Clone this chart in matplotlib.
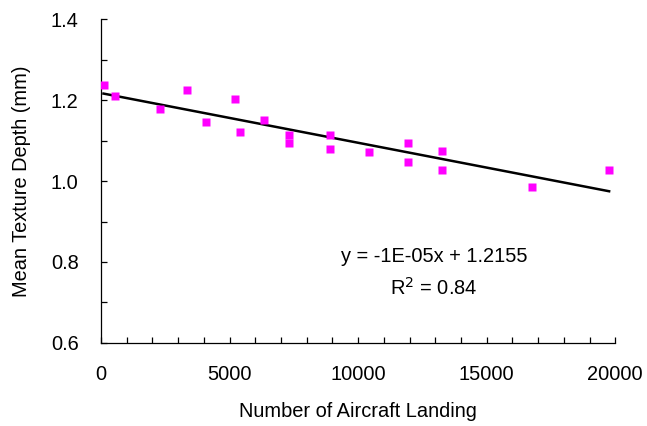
import numpy as np
import matplotlib.pyplot as plt
from matplotlib.ticker import MultipleLocator

plt.rcParams['font.family'] = ['Liberation Sans', 'DejaVu Sans']

# 数据
landings = [100, 550, 2300, 3330, 4100, 5200, 5400, 6350, 7330, 7330,
            8900, 8900, 10440, 11950, 11950, 13270, 13270, 16770, 19760]
mtd = [1.237, 1.210, 1.179, 1.224, 1.146, 1.203, 1.122, 1.150, 1.114, 1.095,
       1.113, 1.078, 1.072, 1.095, 1.047, 1.075, 1.027, 0.986, 1.027]
eq_text = 'y = -1E-05x + 1.2155'
r2_text = 'R$^2$ = 0.84'

x = np.array(landings)
y = np.array(mtd)
k, b = np.polyfit(x, y, 1)
xs = np.array([x.min(), x.max()])

fig = plt.figure(figsize=(6.47, 4.26), dpi=100)
ax = fig.add_axes([0.156, 0.195, 0.795, 0.76])

ax.plot(xs, k * xs + b, color='black', lw=1.8, zorder=2)
ax.plot(x, y, ls='none', marker='s', ms=5.8, color='#ff00ff', mec='none', zorder=3)

ax.set_xlim(0, 20000)
ax.set_ylim(0.6, 1.4)
ax.xaxis.set_major_locator(MultipleLocator(5000))
ax.xaxis.set_minor_locator(MultipleLocator(1000))
ax.yaxis.set_major_locator(MultipleLocator(0.2))
ax.yaxis.set_minor_locator(MultipleLocator(0.1))
ax.yaxis.set_major_formatter(plt.FormatStrFormatter('%.1f'))

for s in ['top', 'right']:
    ax.spines[s].set_visible(False)
for s in ['left', 'bottom']:
    ax.spines[s].set_linewidth(0.9)

ax.tick_params(which='both', direction='in', length=4, width=0.9)
ax.tick_params(which='major', labelsize=14.4, pad=16)

ax.set_xlabel('Number of Aircraft Landing', fontsize=14.4, labelpad=13)
ax.set_ylabel('Mean Texture Depth (mm)', fontsize=14.4, labelpad=14)

ax.text(12950, 0.813, eq_text, fontsize=14.4, ha='center', va='center')
ax.text(12950, 0.736, r2_text, fontsize=14.4, ha='center', va='center')

fig.savefig('out.png', dpi=100)
